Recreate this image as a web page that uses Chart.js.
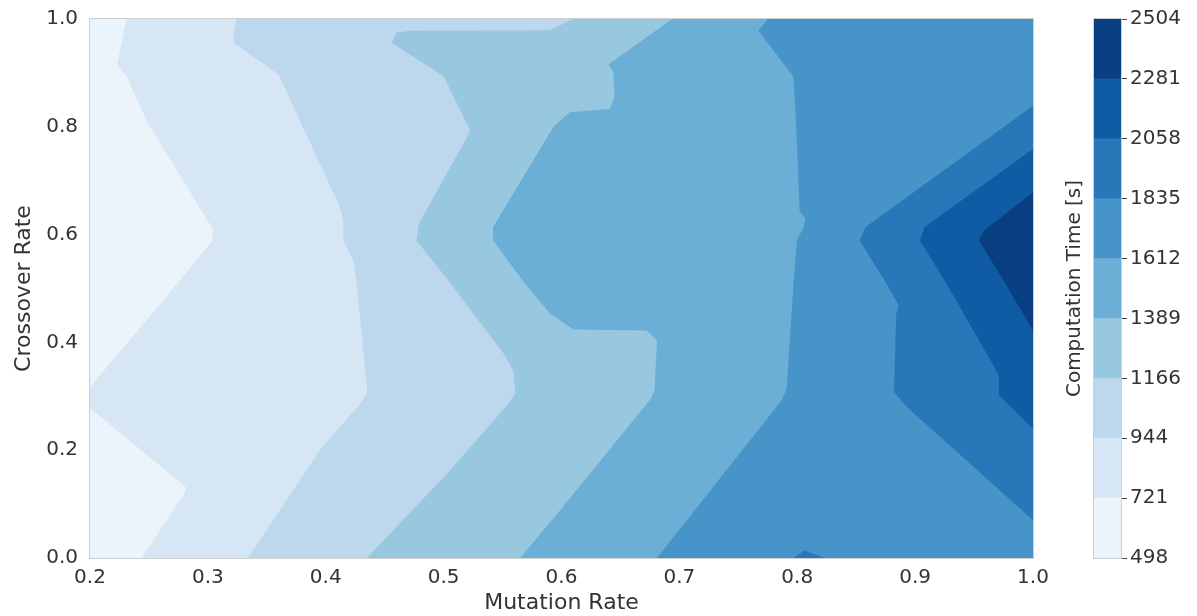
<!DOCTYPE html>
<html>
<head>
<meta charset="utf-8">
<script src="https://cdn.jsdelivr.net/npm/chart.js@4.4.0/dist/chart.umd.min.js"></script>
<style>
  body { margin: 0; background: #fff; }
  #mainChart { position: absolute; left: 0; top: 0; }
  #barChart { position: absolute; left: 1040px; top: 0; }
</style>
</head>
<body>
<canvas id="mainChart" width="1060" height="616"></canvas>
<canvas id="barChart" width="157" height="616"></canvas>
<script>
// contour levels (colorbar ticks) and Blues colours of the 9 bands
const levels = [498, 721, 944, 1166, 1389, 1612, 1835, 2058, 2281, 2504];
const bandColors = ['#ecf4fb', '#d6e6f4', '#bdd7ec', '#98c7e0', '#6baed6', '#4795c8', '#2878b9', '#105ca4', '#083f81'];

const xRange = [0.2, 1.0];
const yRange = [0.0, 1.0];

// contour lines, [mutation, crossover], everything right of each line is the next band
const edge721 = [[0.231, 1.0], [0.223, 0.916], [0.231, 0.894], [0.248, 0.811], [0.304, 0.611], [0.304, 0.589], [0.269, 0.496], [0.2, 0.317], [0.2, 0.278], [0.281, 0.132], [0.281, 0.123], [0.244, 0.0]];
const edge944 = [[0.324, 1.0], [0.322, 0.978], [0.322, 0.956], [0.360, 0.897], [0.412, 0.651], [0.415, 0.626], [0.415, 0.589], [0.423, 0.555], [0.426, 0.515], [0.435, 0.317], [0.435, 0.305], [0.428, 0.283], [0.395, 0.2], [0.334, 0.0]];
const edge1166 = [[0.610, 1.0], [0.590, 0.979], [0.472, 0.978], [0.460, 0.975], [0.456, 0.956], [0.500, 0.894], [0.522, 0.796], [0.522, 0.789], [0.479, 0.620], [0.477, 0.589], [0.504, 0.515], [0.551, 0.379], [0.559, 0.348], [0.561, 0.305], [0.555, 0.286], [0.503, 0.157], [0.435, 0.0]];
const edge1389 = [[0.694, 1.0], [0.640, 0.916], [0.644, 0.901], [0.645, 0.857], [0.641, 0.833], [0.607, 0.827], [0.593, 0.799], [0.542, 0.614], [0.542, 0.589], [0.567, 0.515], [0.590, 0.454], [0.610, 0.424], [0.672, 0.422], [0.681, 0.404], [0.679, 0.311], [0.675, 0.293], [0.599, 0.089], [0.565, 0.0]];
const edge1612 = [[0.775, 1.0], [0.767, 0.978], [0.794, 0.901], [0.797, 0.891], [0.800, 0.756], [0.802, 0.644], [0.807, 0.629], [0.805, 0.611], [0.800, 0.592], [0.797, 0.515], [0.791, 0.314], [0.787, 0.293], [0.681, 0.0]];
const edge1835 = [[1.0, 0.839], [0.858, 0.614], [0.853, 0.589], [0.874, 0.515], [0.886, 0.469], [0.884, 0.454], [0.882, 0.308], [0.893, 0.280], [1.0, 0.070]];
const island1835 = [[0.797, 0.0], [0.806, 0.014], [0.823, 0.0]];
const edge2058 = [[1.0, 0.759], [0.908, 0.614], [0.904, 0.589], [0.925, 0.515], [0.968, 0.351], [0.971, 0.336], [0.971, 0.302], [1.0, 0.240]];
const edge2281 = [[1.0, 0.678], [0.958, 0.607], [0.954, 0.589], [0.975, 0.515], [1.0, 0.422]];

const txt = '#333333';
Chart.defaults.font.family = '"DejaVu Sans", sans-serif';
Chart.defaults.font.size = 20;
Chart.defaults.color = txt;

// light grey box round the plot area
const framePlugin = {
    id: 'frame',
    afterDraw(chart) {
        const a = chart.chartArea;
        const ctx = chart.ctx;
        ctx.save();
        ctx.strokeStyle = '#cfcfcf';
        ctx.lineWidth = 1;
        ctx.strokeRect(a.left - 0.5, a.top - 0.5, a.right - a.left + 1, a.bottom - a.top + 1);
        ctx.restore();
    }
};

// close a contour line round the right side of the plot
function closeRegion(line) {
    const pts = line.slice();
    const first = pts[0], last = pts[pts.length - 1];
    if (first[1] === yRange[1] && last[1] === yRange[0]) {
        pts.push([xRange[1], yRange[0]], [xRange[1], yRange[1]]);
    }
    return pts;
}

const regions = [
    { pts: [[xRange[0], yRange[0]], [xRange[0], yRange[1]], [xRange[1], yRange[1]], [xRange[1], yRange[0]]], band: 0 },
    { pts: closeRegion(edge721), band: 1 },
    { pts: closeRegion(edge944), band: 2 },
    { pts: closeRegion(edge1166), band: 3 },
    { pts: closeRegion(edge1389), band: 4 },
    { pts: closeRegion(edge1612), band: 5 },
    { pts: edge1835, band: 6 },
    { pts: island1835, band: 6 },
    { pts: edge2058, band: 7 },
    { pts: edge2281, band: 8 }
];

const contourSets = regions.map((r, i) => ({
    data: r.pts.map(p => ({ x: p[0], y: p[1] })),
    backgroundColor: bandColors[r.band],
    borderWidth: 0,
    pointRadius: 0,
    pointHoverRadius: 0,
    tension: 0,
    fill: 'shape',
    order: regions.length - i
}));

new Chart(document.getElementById('mainChart'), {
    type: 'line',
    data: { datasets: contourSets },
    options: {
        responsive: false,
        animation: false,
        events: [],
        layout: { padding: { top: 19, right: 27, bottom: 0, left: 0 }, autoPadding: false },
        plugins: { legend: { display: false }, tooltip: { enabled: false } },
        scales: {
            x: {
                type: 'linear',
                min: xRange[0],
                max: xRange[1],
                ticks: { stepSize: 0.1, padding: 8, callback: v => v.toFixed(1) },
                grid: { display: false, drawTicks: false },
                border: { display: false },
                title: { display: true, text: 'Mutation Rate', font: { size: 22 }, padding: { top: 0, bottom: 0 } },
                afterFit: s => { s.height = 58; }
            },
            y: {
                type: 'linear',
                min: yRange[0],
                max: yRange[1],
                ticks: { stepSize: 0.2, padding: 12, callback: v => v.toFixed(1) },
                grid: { display: false, drawTicks: false },
                border: { display: false },
                title: { display: true, text: 'Crossover Rate', font: { size: 22 }, padding: { top: 11, bottom: 0 } },
                afterFit: s => { s.width = 90; s.paddingTop = 0; s.paddingBottom = 0; }
            }
        }
    },
    plugins: [framePlugin]
});

// colorbar: one floating bar segment per band
const barSets = bandColors.map((c, i) => ({
    data: [[levels[i], levels[i + 1]]],
    backgroundColor: c,
    borderWidth: 0,
    grouped: false,
    barPercentage: 1,
    categoryPercentage: 1
}));

new Chart(document.getElementById('barChart'), {
    type: 'bar',
    data: { labels: [''], datasets: barSets },
    options: {
        responsive: false,
        animation: false,
        events: [],
        layout: { padding: { top: 19, right: 0, bottom: 58, left: 0 } },
        plugins: { legend: { display: false }, tooltip: { enabled: false } },
        scales: {
            x: { display: false },
            y: {
                position: 'right',
                min: levels[0],
                max: levels[levels.length - 1],
                afterBuildTicks: s => { s.ticks = levels.map(v => ({ value: v })); },
                ticks: { padding: 3, callback: v => String(v) },
                grid: { drawOnChartArea: false, tickLength: 6, tickColor: '#444' },
                border: { display: false },
                afterFit: s => { s.width = 76; s.paddingTop = 0; s.paddingBottom = 0; }
            },
            yTitle: {
                type: 'linear',
                position: 'left',
                ticks: { display: false },
                grid: { display: false, drawTicks: false },
                border: { display: false },
                title: { display: true, text: 'Computation Time [s]', padding: { top: 23, bottom: 0 } },
                afterFit: s => { s.width = 54; }
            }
        }
    },
    plugins: [framePlugin]
});
</script>
</body>
</html>
